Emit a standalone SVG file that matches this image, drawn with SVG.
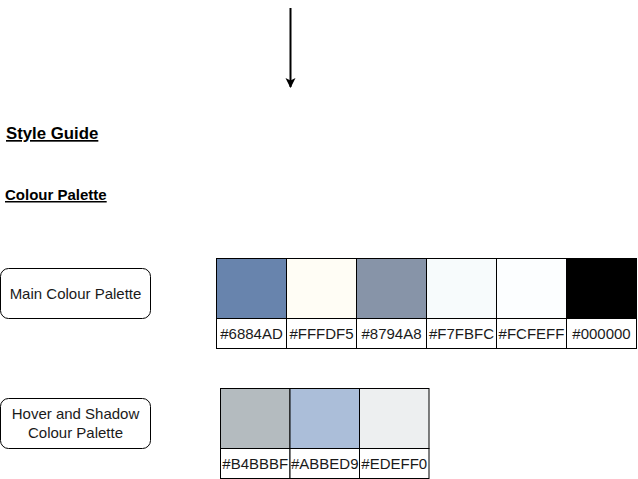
<svg xmlns="http://www.w3.org/2000/svg" width="638" height="479" viewBox="0 0 638 479">
<style>
text{font-family:"Liberation Sans",Arial,sans-serif;fill:#1a1a1a}
.lbl{font-size:15px}
.sw{stroke:#000;stroke-width:1}
.tag{fill:#fff;stroke:#000;stroke-width:1}
.node{fill:#fff;stroke:#000;stroke-width:1}
.h{font-weight:bold;text-decoration:underline;fill:#000}
</style>
<defs>
<marker id="ah" markerWidth="10" markerHeight="12" refX="9" refY="5" orient="auto" markerUnits="userSpaceOnUse">
<path d="M0,0 L10,5 L0,10 L2.5,5 Z" fill="#000"/>
</marker>
</defs>
<g id="connectors">
<line x1="290.5" y1="8" x2="290.5" y2="87" stroke="#000" stroke-width="2" marker-end="url(#ah)"/>
</g>
<g id="title"><text class="h" x="6" y="139" font-size="16.8">Style Guide</text></g>
<g id="subtitle"><text class="h" x="5" y="200" font-size="15">Colour Palette</text></g>
<g id="main-label">
<rect class="node" x="0.5" y="268.5" width="150" height="50" rx="8"/>
<text class="lbl" x="75.5" y="298.5" text-anchor="middle">Main Colour Palette</text>
</g>
<g id="hover-label">
<rect class="node" x="0.5" y="398.5" width="150" height="50" rx="8"/>
<text class="lbl" x="75.5" y="419" text-anchor="middle">Hover and Shadow</text>
<text class="lbl" x="75.5" y="437.5" text-anchor="middle">Colour Palette</text>
</g>
<g id="main-palette">
<rect class="sw" x="216.5" y="258.5" width="70" height="60" fill="#6884AD"/>
<rect class="sw" x="286.5" y="258.5" width="70" height="60" fill="#FFFDF5"/>
<rect class="sw" x="356.5" y="258.5" width="70" height="60" fill="#8794A8"/>
<rect class="sw" x="426.5" y="258.5" width="70" height="60" fill="#F7FBFC"/>
<rect class="sw" x="496.5" y="258.5" width="70" height="60" fill="#FCFEFF"/>
<rect class="sw" x="566.5" y="258.5" width="70" height="60" fill="#000000"/>
<rect class="tag" x="216.5" y="318.5" width="70" height="30"/>
<rect class="tag" x="286.5" y="318.5" width="70" height="30"/>
<rect class="tag" x="356.5" y="318.5" width="70" height="30"/>
<rect class="tag" x="426.5" y="318.5" width="70" height="30"/>
<rect class="tag" x="496.5" y="318.5" width="70" height="30"/>
<rect class="tag" x="566.5" y="318.5" width="70" height="30"/>
<text class="lbl" x="251.5" y="339" text-anchor="middle">#6884AD</text>
<text class="lbl" x="321.5" y="339" text-anchor="middle">#FFFDF5</text>
<text class="lbl" x="391.5" y="339" text-anchor="middle">#8794A8</text>
<text class="lbl" x="461.5" y="339" text-anchor="middle">#F7FBFC</text>
<text class="lbl" x="531.5" y="339" text-anchor="middle">#FCFEFF</text>
<text class="lbl" x="601.5" y="339" text-anchor="middle">#000000</text>
</g>
<g id="hover-palette">
<rect class="sw" x="220.5" y="388.5" width="69.5" height="60" fill="#B4BBBF"/>
<rect class="sw" x="290" y="388.5" width="69.5" height="60" fill="#ABBED9"/>
<rect class="sw" x="359.5" y="388.5" width="69.5" height="60" fill="#EDEFF0"/>
<rect class="tag" x="220.5" y="448.5" width="69.5" height="30"/>
<rect class="tag" x="290" y="448.5" width="69.5" height="30"/>
<rect class="tag" x="359.5" y="448.5" width="69.5" height="30"/>
<text class="lbl" x="255.25" y="469" text-anchor="middle">#B4BBBF</text>
<text class="lbl" x="324.75" y="469" text-anchor="middle">#ABBED9</text>
<text class="lbl" x="394.25" y="469" text-anchor="middle">#EDEFF0</text>
</g>
</svg>
